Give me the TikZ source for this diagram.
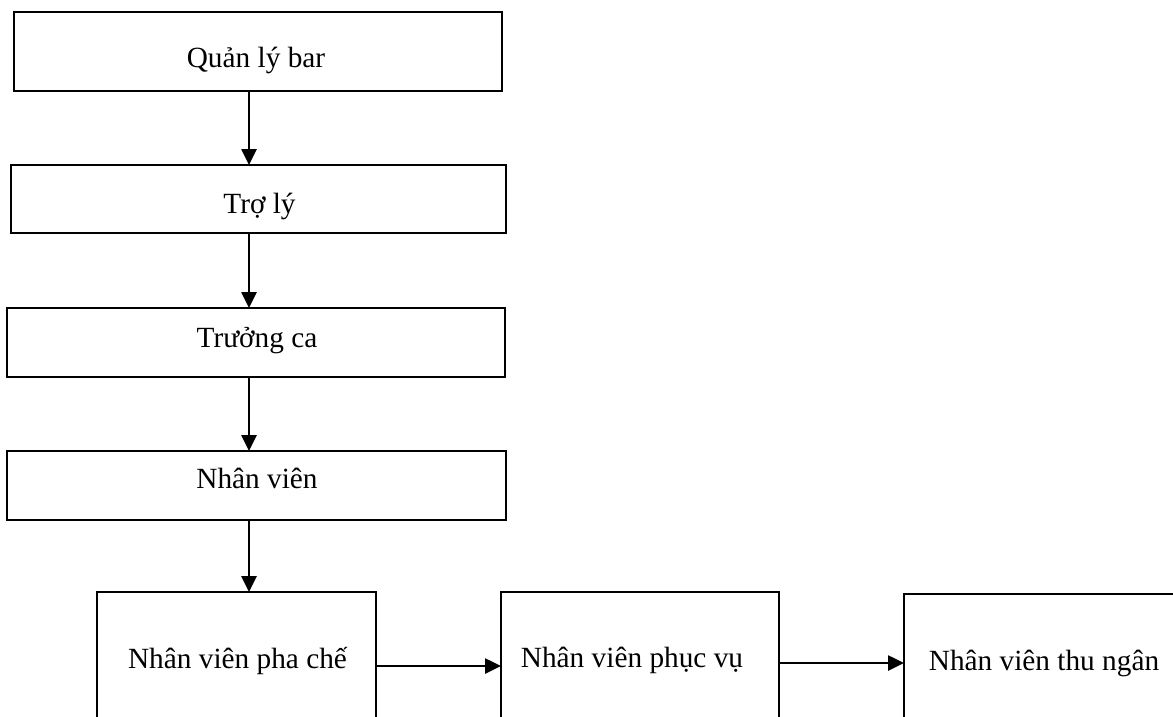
\documentclass[tikz,border=0pt]{standalone}
\usepackage{fontspec}
\setmainfont{Liberation Serif}
\usetikzlibrary{arrows.meta}
\begin{document}
\begin{tikzpicture}[x=1pt,y=-1pt,
  box/.style={draw=black,line width=2pt,rectangle,inner sep=0pt,outer sep=0pt,fill=white},
  lbl/.style={anchor=base,inner sep=0pt,font=\fontsize{29.3}{35}\selectfont},
  arr/.style={line width=2.6pt,-{Triangle[length=16pt,width=15pt]}}]
\useasboundingbox (0,0) rectangle (1173,716);
\begin{scope}
\clip (0,0) rectangle (1173,716);
\node[box,minimum width=488pt,minimum height=79pt] (b1) at (258,51.5) {};
\node[box,minimum width=495pt,minimum height=68pt] (b2) at (258.5,199) {};
\node[box,minimum width=498pt,minimum height=69pt] (b3) at (256,342.5) {};
\node[box,minimum width=499pt,minimum height=69pt] (b4) at (256.5,485.5) {};
\node[box,minimum width=279pt,minimum height=200pt] (b5) at (236.5,692) {};
\node[box,minimum width=278pt,minimum height=200pt] (b6) at (640,692) {};
\node[box,minimum width=316pt,minimum height=200pt] (b7) at (1062,694) {};
\node[lbl] (t1) at (256,67) {Quản lý bar};
\node[lbl] (t2) at (259.5,213) {Trợ lý};
\node[lbl] (t3) at (257,347) {Trưởng ca};
\node[lbl] (t4) at (257,488) {Nhân viên};
\node[lbl] (t5) at (237.5,668) {Nhân viên pha chế};
\node[lbl] (t6) at (632,667) {Nhân viên phục vụ};
\node[lbl] (t7) at (1044,670) {Nhân viên thu ngân};
\coordinate (ax) at (249,0);
\coordinate (h1) at (0,666);
\coordinate (h2) at (0,663);
\draw[arr] (ax |- b1.south) -- (ax |- b2.north);
\draw[arr] (ax |- b2.south) -- (ax |- b3.north);
\draw[arr] (ax |- b3.south) -- (ax |- b4.north);
\draw[arr] (ax |- b4.south) -- (ax |- b5.north);
\draw[arr] (b5.east |- h1) -- (b6.west |- h1);
\draw[arr] (b6.east |- h2) -- (b7.west |- h2);
\end{scope}
\end{tikzpicture}
\end{document}
